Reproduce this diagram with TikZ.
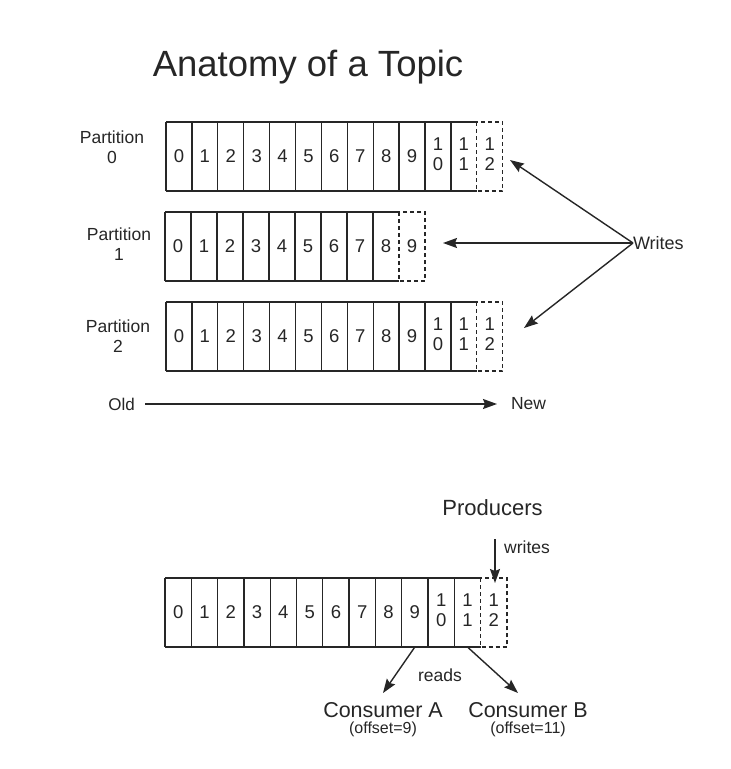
\documentclass[tikz,border=0pt]{standalone}
\usepackage{fontspec}
\setmainfont{Liberation Sans}
\usetikzlibrary{arrows.meta}
\definecolor{ink}{HTML}{262626}
\newcommand\fsz[2]{\fontsize{#1}{#2}\selectfont}
\newcommand\kafkarow[5]{%
  \foreach \i in {0,...,#4}{%
    \pgfmathtruncatemacro\ones{mod(\i,10)}%
    \ifnum\i>9
      \node[cellbox, minimum width=#5] (#1c\i) at ({#2+(\i+0.5)*#5},{#3+34.5}) {};
      \node[digit] (#1t\i) at ([yshift=12pt]#1c\i.center) {1};
      \node[digit] (#1b\i) at ([yshift=-8pt]#1c\i.center) {\ones};
    \else
      \node[cellbox, minimum width=#5] (#1c\i) at ({#2+(\i+0.5)*#5},{#3+34.5}) {\i};
    \fi
  }
  \pgfmathtruncatemacro\lastsolid{#4-1}
  \draw[boxline] (#1c0.north west) -- (#1c\lastsolid.north east);
  \draw[boxline] (#1c0.south west) -- (#1c\lastsolid.south east);
  \foreach \j in {0,...,\lastsolid}{\draw[boxline] (#1c\j.north west) -- (#1c\j.south west);}
  \draw[boxline, dash pattern=on 4pt off 3pt] (#1c#4.north west) rectangle (#1c#4.south east);
}
\begin{document}
\begin{tikzpicture}[x=1pt,y=-1pt,
  cellbox/.style={minimum height=69, inner sep=0pt, outer sep=0pt, draw=none, text=ink, font=\fsz{18.5}{20}},
  digit/.style={inner sep=0pt, outer sep=0pt, text=ink, font=\fsz{18.5}{20}},
  boxline/.style={draw=ink, line width=1.3pt},
  lbl/.style={inner sep=0pt, outer sep=0pt, text=ink, align=center},
  arr/.style={draw=ink, line width=1.4pt, -{Stealth[length=14pt,width=10pt,inset=2pt]}}
]
\fill[white] (0,0) rectangle (731,769);
\useasboundingbox (0,0) rectangle (731,769);

\node[lbl, font=\fsz{36.5}{40}] (title) at (308,67) {Anatomy of a Topic};

\kafkarow{p0}{166}{122}{12}{25.9}
\kafkarow{p1}{165}{212}{9}{26}
\kafkarow{p2}{166}{302}{12}{25.9}
\kafkarow{bt}{165}{578}{12}{26.3}

\node[lbl, font=\fsz{17.5}{20}] (l0) at (112,147.5) {Partition\\0};
\node[lbl, font=\fsz{17.5}{20}] (l1) at (119,244) {Partition\\1};
\node[lbl, font=\fsz{17.5}{20.5}] (l2) at (118,336) {Partition\\2};

\node[lbl, font=\fsz{18}{20}, anchor=west] (writes) at (633,243) {Writes};
\coordinate (w0) at (510,160);
\coordinate (w1) at (443,243);
\coordinate (w2) at (524,328);
\draw[arr] (writes.west) -- (w0);
\draw[arr] (writes.west) -- (w1);
\draw[arr] (writes.west) -- (w2);

\node[lbl, font=\fsz{17}{20}] (old) at (121.5,404) {Old};
\node[lbl, font=\fsz{17.5}{20}] (new) at (528.5,404) {New};
\coordinate (oldend) at (145,404);
\coordinate (newend) at (497,404);
\draw[arr] (oldend) -- (newend);

\node[lbl, font=\fsz{22}{24}] (prod) at (492.5,508) {Producers};
\coordinate (pstart) at (495,539);
\coordinate (ptip) at (495,583);
\draw[arr] (pstart) -- (ptip);
\node[lbl, font=\fsz{17.5}{20}] (wr) at (527,547) {writes};

\coordinate (ra) at (383,693);
\coordinate (rb) at (518,693);
\draw[arr] (btc9.south) -- (ra);
\draw[arr] (btc11.south) -- (rb);
\node[lbl, font=\fsz{17.5}{20}] (reads) at (440,675) {reads};
\node[lbl, font=\fsz{21.5}{24}] (ca) at (383,710) {Consumer A};
\node[lbl, font=\fsz{16}{18}] (oa) at (383,729) {(offset=9)};
\node[lbl, font=\fsz{21.5}{24}] (cb) at (528,710) {Consumer B};
\node[lbl, font=\fsz{16}{18}] (ob) at (528,729) {(offset=11)};
\end{tikzpicture}
\end{document}
